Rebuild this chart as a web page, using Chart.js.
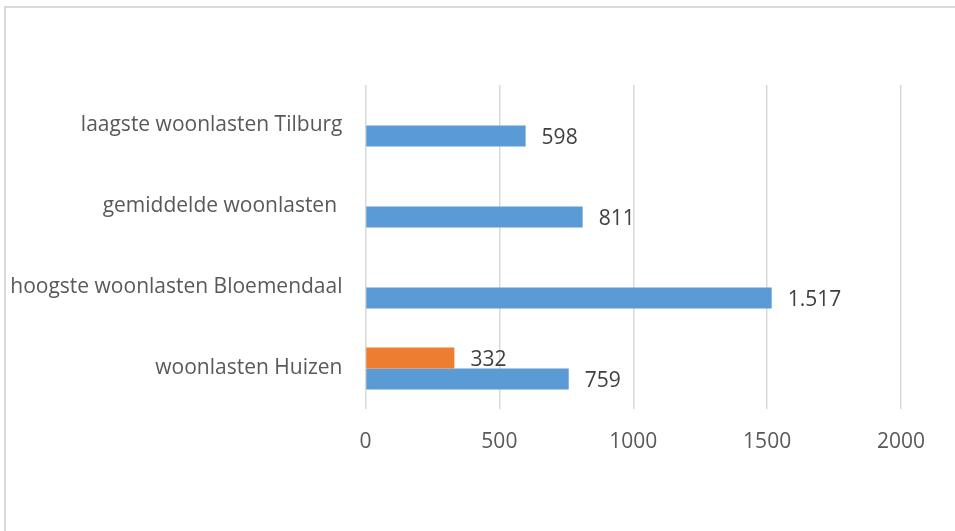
<!DOCTYPE html>
<html>
<head>
<meta charset="utf-8">
<script src="https://cdn.jsdelivr.net/npm/chart.js@4/dist/chart.umd.min.js"></script>
<style>
  html, body { margin: 0; padding: 0; background: #fff; }
  #wrap { width: 955px; height: 531px; }
</style>
</head>
<body>
<div id="wrap"><canvas id="chart"></canvas></div>
<script>
// categories top to bottom
const categories = ['laagste woonlasten Tilburg', 'gemiddelde woonlasten ', 'hoogste woonlasten Bloemendaal', 'woonlasten Huizen'];
const orangeValues = [null, null, null, 332];
const blueValues = [598, 811, 1517, 759];
const xTicks = [0, 500, 1000, 1500, 2000];

const FONT = '"Open Sans", sans-serif';

// dutch thousands separator
function formatNL(v) {
    return String(v).replace(/\B(?=(\d{3})+(?!\d))/g, '.');
}

// light frame round the chart, like the office chart box
const framePlugin = {
    id: 'frame',
    beforeDraw(chart) {
        const ctx = chart.ctx;
        ctx.save();
        ctx.fillStyle = '#fff';
        ctx.fillRect(0, 0, chart.width, chart.height);
        ctx.strokeStyle = '#d9d9d9';
        ctx.lineWidth = 2;
        ctx.strokeRect(5, 7, chart.width + 20, chart.height + 20);
        ctx.restore();
    }
};

// value labels next to the bar ends
const valueLabels = {
    id: 'valueLabels',
    afterDatasetsDraw(chart) {
        const ctx = chart.ctx;
        ctx.save();
        ctx.font = '21px ' + FONT;
        ctx.fillStyle = '#404040';
        ctx.textAlign = 'left';
        ctx.textBaseline = 'middle';
        chart.data.datasets.forEach((ds, i) => {
            chart.getDatasetMeta(i).data.forEach((bar, j) => {
                const v = ds.data[j];
                if (v === null || v === undefined) return;
                ctx.fillText(formatNL(v), bar.x + 16, bar.y + 2);
            });
        });
        ctx.restore();
    }
};

new Chart(document.getElementById('chart'), {
    type: 'bar',
    data: {
        labels: categories,
        datasets: [
            { label: 'Huizen', data: orangeValues, backgroundColor: '#ED7D31' },
            { label: 'woonlasten', data: blueValues, backgroundColor: '#5B9BD5' }
        ]
    },
    options: {
        indexAxis: 'y',
        responsive: true,
        maintainAspectRatio: false,
        animation: false,
        categoryPercentage: 0.52,
        barPercentage: 1,
        layout: { padding: { top: 85, right: 54, bottom: 0, left: 0 } },
        plugins: {
            legend: { display: false },
            tooltip: { enabled: false }
        },
        scales: {
            x: {
                min: 0,
                max: 2000,
                afterBuildTicks(scale) {
                    scale.ticks = xTicks.map(v => ({ value: v }));
                },
                afterFit(scale) { scale.height = 122; },
                grid: { color: '#d9d9d9', lineWidth: 1.5, drawTicks: false },
                border: { display: false },
                ticks: {
                    color: '#595959',
                    font: { family: FONT, size: 21 },
                    padding: 20,
                    callback: v => String(v)
                }
            },
            y: {
                afterFit(scale) { scale.width = 365.5; },
                grid: { display: false, drawTicks: false },
                border: { display: false },
                ticks: { color: '#595959', font: { family: FONT, size: 21 }, padding: 23 }
            }
        }
    },
    plugins: [framePlugin, valueLabels]
});
</script>
</body>
</html>
